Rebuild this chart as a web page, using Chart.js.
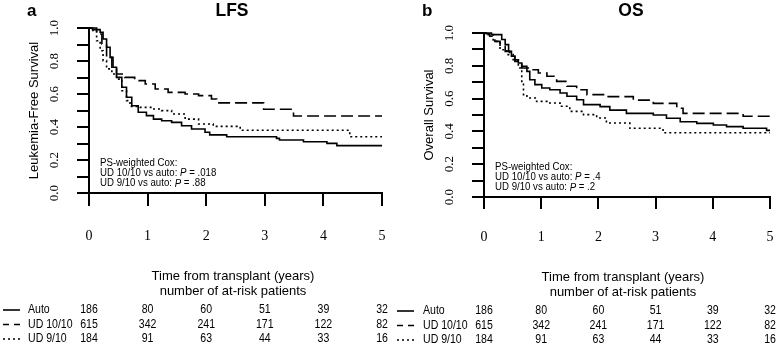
<!DOCTYPE html>
<html>
<head>
<meta charset="utf-8">
<script src="https://cdn.jsdelivr.net/npm/chart.js@4.4.1/dist/chart.umd.min.js"></script>
<style>
  html, body { margin: 0; padding: 0; background: #fff; }
  #wrap { position: relative; width: 778px; height: 352px; overflow: hidden; }
  canvas { position: absolute; top: 0; }
</style>
</head>
<body>
<div id="wrap">
  <canvas id="lfsChart" width="390" height="352" style="left:0"></canvas>
  <canvas id="osChart" width="388" height="352" style="left:390px"></canvas>
</div>
<script>
// ------------------------------------------------------------
// Kaplan-Meier curves
// each point = time (years) at which survival drops to value
// ------------------------------------------------------------
const xTicks = [0, 1, 2, 3, 4, 5];
const yTickLabels = [0, 0.2, 0.4, 0.6, 0.8, 1.0];

// LFS panel
const lfsAutoT = [0, 0.13, 0.19, 0.24, 0.30, 0.36, 0.41, 0.47, 0.56, 0.64, 0.73, 0.84, 0.98, 1.10, 1.24, 1.41, 1.58, 1.75, 1.98, 2.06, 2.35, 3.20, 3.25, 3.66, 4.06, 4.23, 5.0];
const lfsAutoS = [1.0, 0.99, 0.974, 0.933, 0.883, 0.822, 0.762, 0.701, 0.641, 0.58, 0.529, 0.489, 0.469, 0.448, 0.438, 0.428, 0.408, 0.388, 0.368, 0.352, 0.341, 0.331, 0.321, 0.311, 0.301, 0.287, 0.287];
const lfsUd10T = [0, 0.06, 0.13, 0.22, 0.30, 0.39, 0.47, 0.61, 0.78, 0.96, 1.13, 1.35, 1.64, 1.87, 2.09, 2.18, 2.98, 3.49, 5.0];
const lfsUd10S = [1.0, 0.99, 0.964, 0.903, 0.822, 0.762, 0.721, 0.701, 0.681, 0.661, 0.63, 0.61, 0.60, 0.59, 0.57, 0.546, 0.508, 0.467, 0.467];
const lfsUd9T = [0, 0.04, 0.07, 0.13, 0.19, 0.24, 0.30, 0.39, 0.47, 0.56, 0.64, 0.70, 0.84, 1.07, 1.24, 1.41, 1.64, 1.87, 2.12, 2.58, 4.45, 5.0];
const lfsUd9S = [1.0, 0.995, 0.984, 0.923, 0.862, 0.802, 0.752, 0.721, 0.69, 0.62, 0.56, 0.525, 0.519, 0.509, 0.499, 0.479, 0.448, 0.418, 0.404, 0.38, 0.341, 0.341];

// OS panel
const osAutoT = [0, 0.13, 0.31, 0.37, 0.43, 0.48, 0.54, 0.60, 0.66, 0.75, 0.80, 0.89, 1.01, 1.15, 1.33, 1.45, 1.62, 1.74, 2.03, 2.20, 2.49, 2.96, 3.19, 3.43, 3.72, 4.01, 4.24, 4.53, 4.94, 5.0];
const osAutoS = [1.0, 0.99, 0.96, 0.929, 0.888, 0.858, 0.837, 0.817, 0.797, 0.766, 0.715, 0.685, 0.665, 0.654, 0.634, 0.614, 0.593, 0.563, 0.551, 0.53, 0.51, 0.50, 0.48, 0.459, 0.449, 0.439, 0.429, 0.419, 0.406, 0.406];
const osUd10T = [0, 0.04, 0.10, 0.19, 0.28, 0.37, 0.45, 0.54, 0.66, 0.80, 0.95, 1.10, 1.27, 1.45, 1.62, 1.80, 2.14, 2.61, 2.96, 3.37, 3.48, 4.53, 5.0];
const osUd10S = [1.0, 0.995, 0.98, 0.949, 0.919, 0.888, 0.858, 0.827, 0.787, 0.776, 0.756, 0.736, 0.705, 0.675, 0.654, 0.624, 0.612, 0.591, 0.571, 0.541, 0.51, 0.492, 0.492];
const osUd9T = [0, 0.05, 0.16, 0.28, 0.40, 0.51, 0.60, 0.66, 0.69, 0.75, 0.92, 1.15, 1.33, 1.50, 1.74, 1.97, 2.14, 2.55, 3.13, 5.0];
const osUd9S = [1.0, 0.99, 0.949, 0.898, 0.868, 0.837, 0.787, 0.705, 0.624, 0.604, 0.583, 0.573, 0.553, 0.522, 0.502, 0.482, 0.451, 0.419, 0.392, 0.392];

// at-risk table (same in both panels)
const groupNames = ["Auto", "UD 10/10", "UD 9/10"];
const atRiskAuto = [186, 80, 60, 51, 39, 32];
const atRiskUd10 = [615, 342, 241, 171, 122, 82];
const atRiskUd9 = [184, 91, 63, 44, 33, 16];

const lfsCox = ["PS-weighted Cox:", "UD 10/10 vs auto: |P| = .018", "UD 9/10 vs auto: |P| = .88"];
const osCox = ["PS-weighted Cox:", "UD 10/10 vs auto: |P| = .4", "UD 9/10 vs auto: |P| = .2"];

// ------------------------------------------------------------
const SANS = "'Liberation Sans', Arial, sans-serif";
const SERIF = "'Liberation Serif', 'Times New Roman', serif";
const lineStyles = [[], [12, 5], [2, 3]];
const legendDash = [[], [6, 5], [2, 3]];

function pts(t, s) {
  return t.map((x, i) => ({ x: x, y: s[i] }));
}

function txt(ctx, s, x, y, font, align, sx) {
  ctx.save();
  ctx.font = font;
  ctx.fillStyle = "#000";
  ctx.textAlign = align || "left";
  ctx.textBaseline = "middle";
  ctx.translate(x, y);
  ctx.scale(sx || 1, 1);
  ctx.fillText(s, 0, 0);
  ctx.restore();
}

function seg(ctx, x1, y1, x2, y2) {
  ctx.beginPath();
  ctx.moveTo(x1, y1);
  ctx.lineTo(x2, y2);
  ctx.stroke();
}

// panel texts and the at-risk table
const panelText = {
  id: "panelText",
  afterDraw(chart) {
    const p = chart.options.plugins.panelText;
    const ctx = chart.ctx;
    const xs = chart.scales.x, ys = chart.scales.y;
    const area = chart.chartArea;

    txt(ctx, p.letter, p.letterX, 11, "bold 17px " + SANS, "left");
    txt(ctx, p.title, p.titleX, 11, "bold 19px " + SANS, "center", 0.92);

    // y tick labels, rotated
    yTickLabels.forEach((v) => {
      ctx.save();
      ctx.translate(area.left - 34, ys.getPixelForValue(v));
      ctx.rotate(-Math.PI / 2);
      txt(ctx, v.toFixed(1), 0, 0, "13px " + SERIF, "center");
      ctx.restore();
    });

    // y axis title
    ctx.save();
    ctx.translate(area.left - 55, (area.top + area.bottom) / 2);
    ctx.rotate(-Math.PI / 2);
    txt(ctx, p.yTitle, 0, 0, "13px " + SANS, "center");
    ctx.restore();

    // Cox annotation (P in italic)
    const sx = 0.92;
    p.cox.forEach((line, i) => {
      let x = area.left + 11;
      const y = area.bottom - 30 + i * 10.3;
      line.split("|").forEach((part, j) => {
        const font = (j % 2 ? "italic " : "") + "10.5px " + SANS;
        txt(ctx, part, x, y, font, "left", sx);
        ctx.font = font;
        x += ctx.measureText(part).width * sx;
      });
    });

    // x axis title lines
    txt(ctx, "Time from transplant (years)", p.xTitleX, p.xTitleY, "13px " + SANS, "center");
    txt(ctx, "number of at-risk patients", p.xTitleX, p.xTitleY + 15, "13px " + SANS, "center");

    // at-risk table
    const rows = [atRiskAuto, atRiskUd10, atRiskUd9];
    rows.forEach((row, r) => {
      const y = p.tableY + r * 14.5;
      ctx.save();
      ctx.strokeStyle = "#000";
      ctx.lineWidth = 1.6;
      ctx.setLineDash(legendDash[r]);
      seg(ctx, p.sampleX, y, p.sampleX + 17, y);
      ctx.restore();
      txt(ctx, groupNames[r], p.nameX, y, "12px " + SANS, "left", 0.88);
      row.forEach((n, k) => {
        txt(ctx, String(n), xs.getPixelForValue(xTicks[k]), y, "12px " + SANS, "center", 0.88);
      });
    });
  },
};

function makePanel(id, W, geo, series, text) {
  const ctx = document.getElementById(id);
  // axis line + outward tick marks, no grid inside the plot
  const axisGrid = (len) => ({
    display: true,
    drawOnChartArea: false,
    drawTicks: true,
    tickLength: len,
    color: "#000",
    lineWidth: 2,
  });
  const axisBorder = { display: true, color: "#000", width: 2 };
  return new Chart(ctx, {
    type: "line",
    data: {
      datasets: series.map((s, i) => ({
        label: groupNames[i],
        data: pts(s[0], s[1]),
        borderColor: "#000",
        borderWidth: 1.6,
        borderDash: lineStyles[i],
        stepped: "before",
        pointRadius: 0,
        fill: false,
        clip: false,
      })),
    },
    options: {
      responsive: false,
      animation: false,
      events: [],
      layout: { padding: { top: geo.top, right: W - geo.right, left: 0, bottom: 0 } },
      plugins: {
        legend: { display: false },
        tooltip: { enabled: false },
        panelText: text,
      },
      scales: {
        x: {
          type: "linear",
          min: 0,
          max: 5,
          afterFit: (s) => {
            s.height = 352 - geo.bottom;
            s.paddingLeft = 0;
            s.paddingRight = 0;
          },
          afterBuildTicks: (s) => { s.ticks = xTicks.map((v) => ({ value: v })); },
          ticks: {
            color: "#000",
            font: { family: SERIF, size: 14 },
            padding: geo.xPad,
            maxRotation: 0,
            callback: (v) => String(v),
          },
          grid: axisGrid(geo.xTick),
          border: axisBorder,
        },
        y: {
          min: 0,
          max: 1,
          afterFit: (s) => { s.width = geo.left; },
          ticks: { display: false, stepSize: 0.1 },
          grid: axisGrid(12),
          border: axisBorder,
        },
      },
    },
    plugins: [panelText],
  });
}

makePanel("lfsChart", 390,
  { left: 89, right: 382, top: 28, bottom: 193, xTick: 13, xPad: 22 },
  [[lfsAutoT, lfsAutoS], [lfsUd10T, lfsUd10S], [lfsUd9T, lfsUd9S]],
  { letter: "a", letterX: 27, title: "LFS", titleX: 232, yTitle: "Leukemia-Free Survival",
    cox: lfsCox, xTitleX: 233, xTitleY: 276, tableY: 310, sampleX: 3, nameX: 28 });

makePanel("osChart", 388,
  { left: 94, right: 380, top: 33, bottom: 197, xTick: 12, xPad: 20 },
  [[osAutoT, osAutoS], [osUd10T, osUd10S], [osUd9T, osUd9S]],
  { letter: "b", letterX: 32, title: "OS", titleX: 241, yTitle: "Overall Survival",
    cox: osCox, xTitleX: 233, xTitleY: 277, tableY: 311, sampleX: 7, nameX: 33 });
</script>
</body>
</html>
